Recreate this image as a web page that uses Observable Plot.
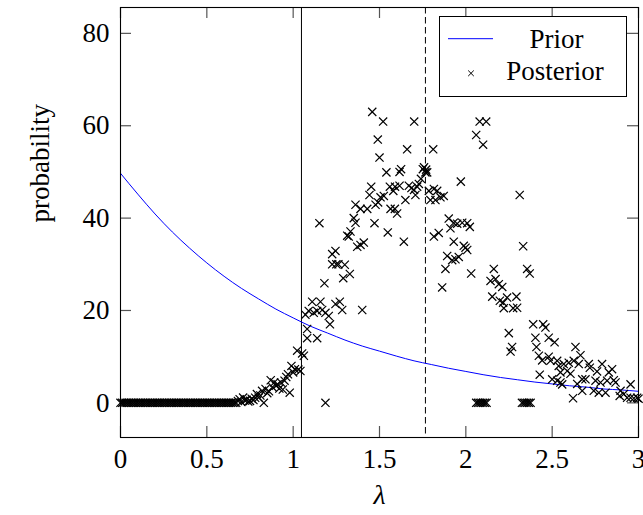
<!DOCTYPE html>
<html><head><meta charset="utf-8">
<script src="https://cdn.jsdelivr.net/npm/d3@7"></script>
<script src="https://cdn.jsdelivr.net/npm/@observablehq/plot@0.6"></script>
<style>
body{margin:0;background:#fff;}
#wrap{position:relative;width:643px;height:515px;}
#legend{position:absolute;left:439px;top:16px;width:188px;height:81px;border:1px solid #000;background:#fff;box-sizing:border-box;}
#legend svg{position:absolute;left:0;top:0;}
</style></head><body><div id="wrap"></div>
<script>
const xTicks = [0, 0.5, 1, 1.5, 2, 2.5, 3];
const xTickLabels = ["0", "0.5", "1", "1.5", "2", "2.5", "3"];
const yTicks = [0, 20, 40, 60, 80];
const yTickLabels = ["0", "20", "40", "60", "80"];
const solidMarkers = [1.048];
const dashedMarkers = [1.766];
const seriesNames = ["Prior", "Posterior"];

const priorLambda = [0,0.1,0.2,0.3,0.4,0.5,0.6,0.7,0.8,0.9,1.0,1.1,1.2,1.3,1.4,1.5,1.6,1.7,1.8,1.9,2.0,2.1,2.2,2.3,2.4,2.5,2.6,2.7,2.8,2.9,3.0];
const priorProb = [49.7,45.2,40.9,37.0,33.5,30.3,27.4,24.8,22.5,20.3,18.4,16.6,15.1,13.6,12.3,11.2,10.1,9.1,8.3,7.5,6.8,6.1,5.5,5.0,4.5,4.1,3.7,3.4,3.0,2.8,2.5];

const postLambda = [
0,0.01,0.02,0.03,0.04,0.05,0.06,0.07,0.08,0.09,0.10,0.11,0.12,0.13,0.14,0.15,0.16,0.17,0.18,0.19,
0.20,0.21,0.22,0.23,0.24,0.25,0.26,0.27,0.28,0.29,0.30,0.31,0.32,0.33,0.34,0.35,0.36,0.37,0.38,0.39,
0.40,0.41,0.42,0.43,0.44,0.45,0.46,0.47,0.48,0.49,0.50,0.51,0.52,0.53,0.54,0.55,0.56,0.57,0.58,0.59,
0.60,0.61,0.62,0.63,0.64,0.65,0.66,0.67,
0.68,0.69,0.70,0.71,0.72,0.73,0.74,0.75,0.76,0.77,0.78,0.79,0.80,0.81,0.82,0.83,0.84,0.85,0.86,0.87,
0.88,0.89,0.90,0.91,0.92,0.93,0.94,0.95,0.96,0.97,0.98,0.99,1.00,1.01,1.023,1.03,1.042,1.052,1.062,1.071,
1.081,1.081,1.090,1.110,1.119,1.139,1.139,1.152,1.158,1.168,1.181,1.187,1.187,1.206,1.213,1.226,1.226,1.245,1.245,1.25,
1.262,1.270,1.284,1.29,1.299,1.313,1.322,1.328,1.332,1.351,1.361,1.361,1.371,1.39,1.39,1.400,1.409,1.429,1.442,1.452,
1.458,1.471,1.477,1.49,1.492,1.50,1.506,1.521,1.525,1.54,1.548,1.56,1.564,1.58,1.589,1.59,1.602,1.616,1.616,1.625,
1.641,1.65,1.66,1.67,1.685,1.70,1.701,1.708,1.718,1.728,1.74,1.751,1.758,1.766,1.77,1.776,1.786,1.795,1.811,1.815,
1.815,1.824,1.834,1.843,1.853,1.863,1.872,1.882,1.892,1.901,1.911,1.921,1.93,1.93,1.94,1.95,1.959,1.971,1.979,1.988,
1.998,2.008,2.008,2.023,2.031,2.06,2.06,2.07,2.08,2.08,2.09,2.10,2.10,2.11,2.118,2.12,2.143,2.153,2.162,2.172,
2.191,2.197,2.211,2.216,2.22,2.239,2.249,2.259,2.268,2.274,2.293,2.297,2.312,2.325,2.332,2.335,2.345,2.355,2.355,2.365,
2.370,2.375,2.39,2.403,2.409,2.423,2.428,2.442,2.448,2.461,2.48,2.48,2.49,2.50,2.514,2.529,2.529,2.538,2.548,2.548,
2.558,2.567,2.587,2.596,2.606,2.621,2.625,2.635,2.645,2.654,2.664,2.674,2.674,2.693,2.712,2.718,2.741,2.751,2.760,2.77,
2.78,2.789,2.809,2.818,2.828,2.847,2.857,2.867,2.891,2.896,2.915,2.934,2.954,2.954,2.973,2.992,3.0
];
const postProb = [
0,0,0,0,0,0,0,0,0,0,0,0,0,0,0,0,0,0,0,0,
0,0,0,0,0,0,0,0,0,0,0,0,0,0,0,0,0,0,0,0,
0,0,0,0,0,0,0,0,0,0,0,0,0,0,0,0,0,0,0,0,
0,0,0,0,0,0,0,0,
0.4,0.8,0.2,1.15,0.5,0.65,0.3,0.43,0.9,0.6,1.1,1.9,1.15,1.6,2.6,0.0,3.0,2.1,2.5,4.9,
3.4,4.4,3.7,4.0,3.1,4.4,2.9,4.8,5.6,6.2,2.2,8.0,6.6,7.3,11.3,7.2,6.9,10.7,10.2,19.1,
16.0,14.0,19.9,21.9,19.5,19.9,14.0,38.9,21.9,20.1,25.9,19.5,0,18.8,17.0,32.2,30.0,32.9,21.4,30.0,
30.0,21.9,20.1,27.0,29.9,36.2,36.0,27.9,37.1,40.0,39.0,42.9,33.8,34.2,42.0,20.1,34.7,42.0,45.0,46.8,
63.0,38.9,42.9,57.0,43.4,53.1,44.5,60.9,44.8,49.9,36.9,46.8,42.0,45.9,42.0,46.8,41.0,47.0,50.0,50.6,
34.9,43.9,54.9,47.0,46.5,46.1,60.9,45.0,46.8,47.4,48.5,50.6,51.0,49.9,50.5,49.9,45.9,43.9,54.9,46.3,
36.0,43.9,45.9,36.8,44.5,25.0,44.8,29.0,31.8,39.9,37.8,30.9,39.0,34.9,31.1,38.8,31.6,47.9,39.0,34.0,
33.6,38.9,33.1,38.1,28.0,58.0,0,0,60.9,0,0,55.9,0,0,60.9,0,26.4,23.0,29.0,26.8,
25.7,22.1,25.1,21.7,20.5,22.8,15.1,11.1,12.1,20.5,23.0,20.6,45.0,0,33.9,0,0,29.0,0,0,
28.0,0,17.0,14.1,12.1,10.2,6.1,9.2,17.0,16.3,14.1,10.0,9.1,5.1,13.1,9.1,4.8,8.0,6.6,4.4,
4.0,8.4,6.9,8.7,6.3,1.0,9.1,12.1,4.1,8.4,10.3,5.1,2.6,5.1,8.4,7.6,2.6,4.8,6.8,2.2,
4.4,8.4,2.2,4.8,6.6,7.3,4.9,4.4,1.5,2.6,1.9,1.1,4.0,1.1,1.0,1.1,0.9
];

const prior = priorLambda.map((l, i) => ({l, p: priorProb[i]}));
const post = postLambda.map((l, i) => ({l, p: postProb[i]}));

const font = "'Liberation Serif','Times New Roman',serif";
const tickStroke = "#555";
const tickLen = 11;
const W = 643, H = 515, mL = 120, mR = 5, mT = 7, mB = 78;
const xDomain = [0, 3], yDomain = [-7.5, 85.6];
// tick length expressed in data units of each axis
const tickUnitsY = tickLen * (yDomain[1] - yDomain[0]) / (H - mT - mB);
const tickUnitsX = tickLen * (xDomain[1] - xDomain[0]) / (W - mL - mR);

const chart = Plot.plot({
  width: W, height: H,
  marginLeft: mL, marginRight: mR, marginTop: mT, marginBottom: mB,
  style: {fontFamily: font, fontSize: "27px", background: "white", color: "black"},
  x: {domain: xDomain},
  y: {domain: yDomain},
  marks: [
    Plot.axisX(xTicks, {anchor: "bottom", tickSize: 0, tickPadding: 11, tickFormat: d => xTickLabels[xTicks.indexOf(d)], label: null, fontSize: 27}),
    Plot.axisY(yTicks, {anchor: "left", tickSize: 0, tickPadding: 11, tickFormat: d => yTickLabels[yTicks.indexOf(d)], label: null, fontSize: 27}),
    Plot.ruleX(xTicks, {x: d => d, y1: yDomain[0], y2: yDomain[0] + tickUnitsY, stroke: tickStroke, strokeWidth: 1.2}),
    Plot.ruleX(xTicks, {x: d => d, y1: yDomain[1], y2: yDomain[1] - tickUnitsY, stroke: tickStroke, strokeWidth: 1.2}),
    Plot.ruleY(yTicks, {y: d => d, x1: xDomain[0], x2: xDomain[0] + tickUnitsX, stroke: tickStroke, strokeWidth: 1.2}),
    Plot.ruleY(yTicks, {y: d => d, x1: xDomain[1], x2: xDomain[1] - tickUnitsX, stroke: tickStroke, strokeWidth: 1.2}),
    Plot.ruleX(solidMarkers, {stroke: "black", strokeWidth: 1}),
    Plot.ruleX(dashedMarkers, {stroke: "black", strokeWidth: 1, strokeDasharray: "6.5,3.5"}),
    Plot.line(prior, {x: "l", y: "p", stroke: "blue", strokeWidth: 1, curve: "monotone-x"}),
    Plot.dot(post, {x: "l", y: "p", symbol: "times", r: 3.8, stroke: "black", strokeWidth: 1.2}),
    Plot.frame({stroke: "black", strokeWidth: 1.1}),
    Plot.text(["λ"], {frameAnchor: "bottom", dy: 66, fontStyle: "italic", fontSize: 28}),
    Plot.text(["probability"], {frameAnchor: "left", dx: -80, rotate: -90, fontSize: 27})
  ]
});

const wrap = document.getElementById("wrap");
wrap.appendChild(chart);

const legend = document.createElement("div");
legend.id = "legend";
legend.innerHTML = `<svg width="186" height="79" style="font-family:${font.replace(/'/g, "&quot;")};font-size:27px">
  <line x1="8" y1="21.7" x2="53" y2="21.7" stroke="blue" stroke-width="1"/>
  <path d="M28.2,53.5L33.8,59.1M28.2,59.1L33.8,53.5" stroke="black" stroke-width="1" fill="none"/>
  <text x="116.5" y="31" text-anchor="middle">${seriesNames[0]}</text>
  <text x="115" y="63" text-anchor="middle">${seriesNames[1]}</text>
</svg>`;
wrap.appendChild(legend);
</script>
</body></html>
